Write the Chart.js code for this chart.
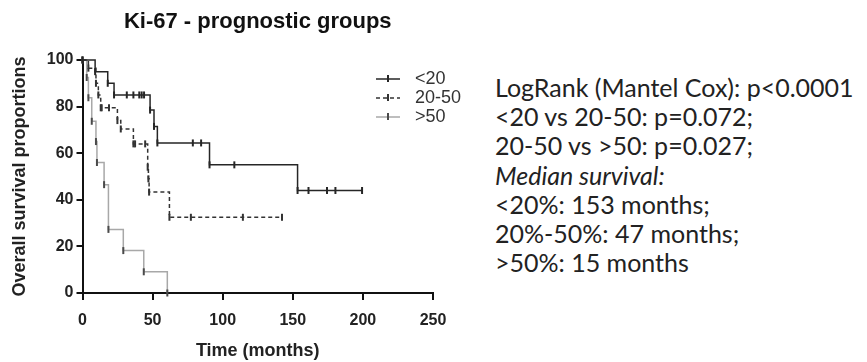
<!DOCTYPE html>
<html>
<head>
<meta charset="utf-8">
<title>Ki-67 - prognostic groups</title>
<script src="https://cdn.jsdelivr.net/npm/chart.js@4/dist/chart.umd.min.js"></script>
<style>
    body { margin: 0; background: #fff; }
    .wrap { position: relative; width: 867px; height: 362px; }
    #kmChart { position: absolute; left: 0; top: 0; }
    .stats {
        position: absolute; left: 495px; top: 73px;
        font-family: Lato, 'Open Sans', sans-serif; font-size: 25px; line-height: 29.2px;
        color: #222; white-space: nowrap;
    }
    .stats .it { font-style: italic; }
</style>
</head>
<body>
<div class="wrap">
    <canvas id="kmChart" width="470" height="362"></canvas>
    <div class="stats" id="stats"></div>
</div>
<script>
// Kaplan-Meier curves (months / % surviving)
const groupLabels = ['<20', '20-50', '>50'];

const lowTimes    = [0, 9, 18, 22.5, 31.6, 36.3, 40.5, 42.2, 43.9, 48.2, 51, 53.4, 78.7, 84.6, 90.6, 108.3, 153.4, 161.2, 174.4, 180.4, 199.4];
const lowSurvival = [100, 95, 90, 85, 85, 85, 85, 85, 85, 78.5, 71.5, 64.4, 64.4, 64.4, 55, 55, 44, 44, 44, 44, 44];

const midTimes    = [0, 4.2, 9.6, 11.3, 13, 13.7, 18.9, 24.9, 27.3, 36.3, 37.5, 44.7, 46.5, 47, 47.5, 62, 77.3, 114.4, 142.3];
const midSurvival = [100, 96.5, 90, 85, 79.5, 79.5, 79.5, 74, 70.4, 64, 64, 64, 54, 49, 43.3, 32.5, 32.5, 32.5, 32.5];

const highTimes    = [0, 3, 4.2, 6.6, 9.6, 10.3, 15.4, 18.5, 29.1, 43.7, 60.5];
const highSurvival = [100, 92.5, 83.8, 73.7, 65, 56, 46.5, 27.3, 18.2, 9.1, 0];

const xTicks = [0, 50, 100, 150, 200, 250];
const yTicks = [0, 20, 40, 60, 80, 100];

const statLines = [
    'LogRank (Mantel Cox): p<0.0001',
    '<20 vs 20-50: p=0.072;',
    '20-50 vs >50: p=0.027;',
    'Median survival:',
    '<20%: 153 months;',
    '20%-50%: 47 months;',
    '>50%: 15 months'
];

const lineColors = ['#262626', '#333333', '#a8a8a8'];
const markColors = ['#262626', '#333333', '#4a4a4a'];
const dashes = [[], [4, 3], []];

function toPoints(times, surv) {
    return times.map((t, i) => ({ x: t, y: surv[i] }));
}

const series = [
    toPoints(lowTimes, lowSurvival),
    toPoints(midTimes, midSurvival),
    toPoints(highTimes, highSurvival)
];

// title + custom legend (line sample with a censor tick through it)
const decorPlugin = {
    id: 'decor',
    afterDraw(chart) {
        const ctx = chart.ctx;
        const area = chart.chartArea;
        ctx.save();
        ctx.fillStyle = '#111';
        ctx.font = 'bold 22px "Liberation Sans", Arial, sans-serif';
        ctx.textAlign = 'center';
        ctx.textBaseline = 'middle';
        ctx.fillText('Ki-67 - prognostic groups', (area.left + area.right) / 2, 22);

        const legendY = [79, 98, 117];
        groupLabels.forEach((label, i) => {
            const y = legendY[i];
            ctx.strokeStyle = lineColors[i];
            ctx.lineWidth = 1.5;
            ctx.setLineDash(dashes[i]);
            ctx.beginPath();
            ctx.moveTo(376, y);
            ctx.lineTo(400, y);
            ctx.stroke();
            ctx.setLineDash([]);
            ctx.strokeStyle = markColors[i];
            ctx.lineWidth = 2;
            ctx.beginPath();
            ctx.moveTo(388, y - 4);
            ctx.lineTo(388, y + 3);
            ctx.stroke();
            ctx.fillStyle = '#333';
            ctx.font = '18px "Liberation Sans", Arial, sans-serif';
            ctx.textAlign = 'left';
            ctx.fillText(label, 415, y);
        });
        ctx.restore();
    }
};

new Chart(document.getElementById('kmChart'), {
    type: 'line',
    data: {
        datasets: series.map((pts, i) => ({
            label: groupLabels[i],
            data: pts,
            stepped: 'before',
            borderColor: lineColors[i],
            borderWidth: 1.5,
            borderDash: dashes[i],
            pointStyle: 'line',
            rotation: 90,
            pointRadius: 3.5,
            pointBorderWidth: 2,
            pointBorderColor: markColors[i],
            pointHoverRadius: 3.5,
            fill: false,
            clip: false
        }))
    },
    options: {
        responsive: false,
        devicePixelRatio: 1,
        animation: false,
        layout: { padding: { top: 60, right: 37, left: 0, bottom: 0 } },
        plugins: { legend: { display: false }, tooltip: { enabled: false } },
        scales: {
            x: {
                type: 'linear',
                min: 0, max: 250,
                afterBuildTicks: (scale) => { scale.ticks = xTicks.map(v => ({ value: v })); },
                afterFit: (scale) => { scale.height = 69; },
                border: { display: true, color: '#111', width: 2 },
                grid: { display: true, drawOnChartArea: false, drawTicks: true, tickLength: 7, color: '#111', lineWidth: 2 },
                ticks: { color: '#222', padding: 11, font: { family: '"Liberation Sans", Arial', size: 16, weight: 'bold' } },
                title: { display: true, text: 'Time (months)', color: '#222', padding: { top: 0, bottom: 0 },
                    font: { family: '"Liberation Sans", Arial', size: 18, weight: 'bold' } }
            },
            y: {
                type: 'linear',
                min: 0, max: 100,
                afterBuildTicks: (scale) => { scale.ticks = yTicks.map(v => ({ value: v })); },
                afterFit: (scale) => { scale.width = 82.5; },
                border: { display: true, color: '#111', width: 2 },
                grid: { display: true, drawOnChartArea: false, drawTicks: true, tickLength: 6, color: '#111', lineWidth: 2 },
                ticks: { color: '#222', padding: 3, font: { family: '"Liberation Sans", Arial', size: 16, weight: 'bold' } },
                title: { display: true, text: 'Overall survival proportions', color: '#222', padding: { top: 9, bottom: 0 },
                    font: { family: '"Liberation Sans", Arial', size: 18, weight: 'bold' } }
            }
        }
    },
    plugins: [decorPlugin]
});

// statistics text on the right
const statsBox = document.getElementById('stats');
statLines.forEach((line, i) => {
    const div = document.createElement('div');
    div.textContent = line;
    if (i === 3) div.className = 'it';
    statsBox.appendChild(div);
});
</script>
</body>
</html>
